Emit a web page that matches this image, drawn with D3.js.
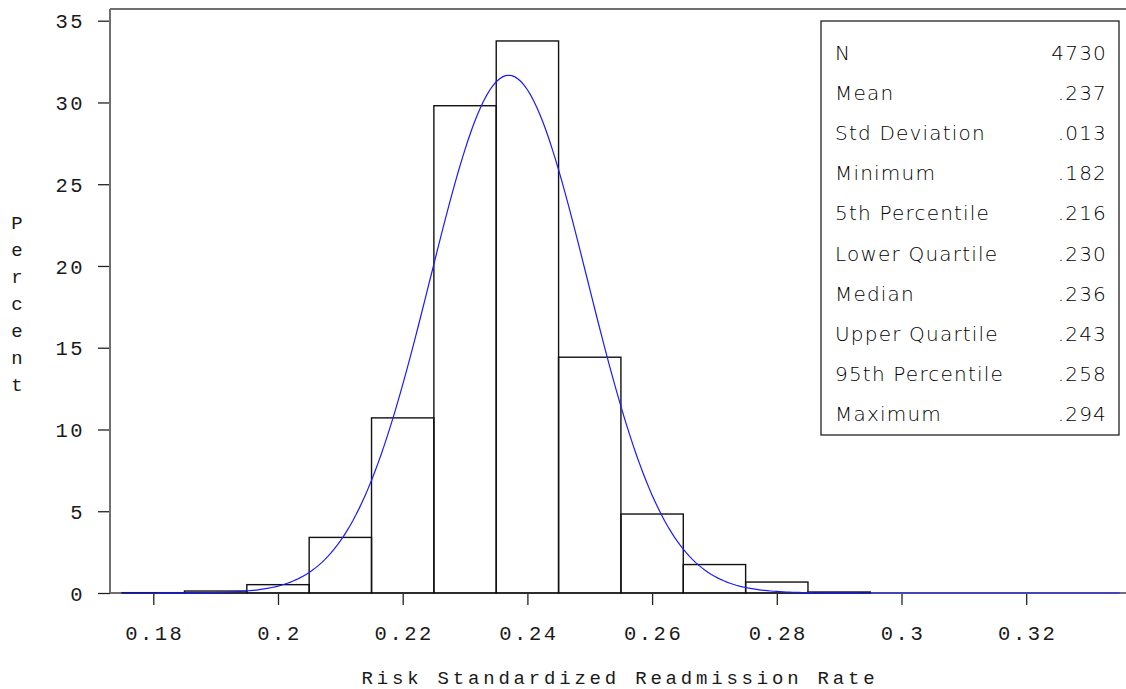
<!DOCTYPE html>
<html>
<head>
<meta charset="utf-8">
<script src="https://cdn.jsdelivr.net/npm/d3@7/dist/d3.min.js"></script>
<style>
  html, body { margin: 0; padding: 0; background: #fff; }
  svg { display: block; }
  .mono { font-family: "Liberation Mono", "DejaVu Sans Mono", monospace; fill: #1a1a1a; }
  .stat { font-family: "DejaVu Sans", sans-serif; font-weight: 200; fill: #000; }
</style>
</head>
<body>
<svg id="chart" width="1126" height="689"></svg>
<script>
// Histogram bins: midpoints and percent of hospitals in each 0.01-wide bin
const binMids = [0.18, 0.19, 0.20, 0.21, 0.22, 0.23, 0.24, 0.25, 0.26, 0.27, 0.28, 0.29];
const binPercents = [0.02, 0.12, 0.51, 3.40, 10.71, 29.80, 33.76, 14.42, 4.83, 1.74, 0.67, 0.06];
const binWidth = 0.01;

// Fitted normal curve parameters
const curveMean = 0.237;
const curveSd = 0.0126;
const curveRange = [0.175, 0.335];

// Axis ticks
const xTicks = [0.18, 0.20, 0.22, 0.24, 0.26, 0.28, 0.30, 0.32];
const yTicks = [0, 5, 10, 15, 20, 25, 30, 35];

// Summary statistics table
const statLabels = ["N", "Mean", "Std Deviation", "Minimum", "5th Percentile",
  "Lower Quartile", "Median", "Upper Quartile", "95th Percentile", "Maximum"];
const statValues = ["4730", ".237", ".013", ".182", ".216", ".230", ".236", ".243", ".258", ".294"];

const svg = d3.select("#chart");
const frame = { left: 110, right: 1126, top: 9, bottom: 593 };

const x = d3.scaleLinear().domain([0.18, 0.32]).range([153.3, 1026.2]);
const y = d3.scaleLinear().domain([0, 35]).range([frame.bottom, 20.7]);

// Frame line along the top
svg.append("line").attr("x1", frame.left).attr("x2", frame.right)
  .attr("y1", frame.top).attr("y2", frame.top)
  .attr("stroke", "#707070").attr("stroke-width", 2);

// X axis
const xAxis = svg.append("g")
  .attr("transform", `translate(0,${frame.bottom})`)
  .call(d3.axisBottom(x).tickValues(xTicks).tickSize(12).tickSizeOuter(0)
    .tickFormat(d => String(+d.toFixed(2))));
xAxis.select(".domain").remove();
xAxis.append("line").attr("x1", frame.left).attr("x2", frame.right)
  .attr("stroke", "#707070").attr("stroke-width", 2);
xAxis.selectAll(".tick line").attr("stroke", "#222").attr("stroke-width", 1.3);
xAxis.selectAll(".tick text")
  .attr("class", "mono")
  .attr("y", 0).attr("dy", null)
  .attr("transform", "translate(1,47)")
  .style("font-size", "20.5px")
  .style("letter-spacing", "2.5px");

// Y axis
const yAxis = svg.append("g")
  .attr("transform", `translate(${frame.left},0)`)
  .call(d3.axisLeft(y).tickValues(yTicks).tickSize(12).tickSizeOuter(0));
yAxis.select(".domain").remove();
yAxis.append("line").attr("y1", frame.top).attr("y2", frame.bottom)
  .attr("stroke", "#707070").attr("stroke-width", 2);
yAxis.selectAll(".tick line").attr("stroke", "#222").attr("stroke-width", 1.3);
yAxis.selectAll(".tick text")
  .attr("class", "mono")
  .attr("x", -25).attr("dy", "0.35em")
  .style("font-size", "20.5px")
  .style("letter-spacing", "2.5px");

// Bars
svg.append("g")
  .selectAll("rect")
  .data(binMids.map((m, i) => ({ m, p: binPercents[i] })))
  .join("rect")
  .attr("x", d => x(d.m - binWidth / 2))
  .attr("width", d => x(d.m + binWidth / 2) - x(d.m - binWidth / 2))
  .attr("y", d => y(d.p))
  .attr("height", d => y(0) - y(d.p))
  .attr("fill", "none")
  .attr("stroke", "#111")
  .attr("stroke-width", 1.4);

// Normal density curve, scaled to percent per bin
const curvePts = d3.range(curveRange[0], curveRange[1] + 1e-9, 0.0005).map(v => {
  const z = (v - curveMean) / curveSd;
  const pct = 100 * binWidth * Math.exp(-0.5 * z * z) / (curveSd * Math.sqrt(2 * Math.PI));
  return [v, pct];
});
svg.append("path")
  .datum(curvePts)
  .attr("fill", "none")
  .attr("stroke", "#1a1aff")
  .attr("stroke-width", 1.2)
  .attr("d", d3.line().x(d => x(d[0])).y(d => y(d[1])));

// Axis titles
svg.append("text")
  .attr("class", "mono")
  .attr("x", 620).attr("y", 684)
  .attr("text-anchor", "middle")
  .style("font-size", "19px")
  .style("letter-spacing", "3.8px")
  .text("Risk Standardized Readmission Rate");

const yTitle = "Percent".split("");
svg.append("g").selectAll("text")
  .data(yTitle)
  .join("text")
  .attr("class", "mono")
  .attr("x", 17)
  .attr("y", (d, i) => 229 + i * 27)
  .attr("text-anchor", "middle")
  .style("font-size", "19px")
  .text(d => d);

// Statistics box
const box = { x: 821, y: 21, w: 298, h: 414 };
svg.append("rect")
  .attr("x", box.x).attr("y", box.y).attr("width", box.w).attr("height", box.h)
  .attr("fill", "#fff").attr("stroke", "#222").attr("stroke-width", 1.3);
const rows = svg.append("g").selectAll("g")
  .data(statLabels.map((l, i) => ({ l, v: statValues[i], i })))
  .join("g");
rows.append("text")
  .attr("class", "stat")
  .attr("x", 835).attr("y", d => 60 + d.i * 40.1)
  .style("font-size", "20px")
  .style("letter-spacing", "1.2px")
  .text(d => d.l);
rows.append("text")
  .attr("class", "stat")
  .attr("x", 1107).attr("y", d => 60 + d.i * 40.1)
  .attr("text-anchor", "end")
  .style("font-size", "20px")
  .style("letter-spacing", "1.2px")
  .text(d => d.v);
</script>
</body>
</html>
